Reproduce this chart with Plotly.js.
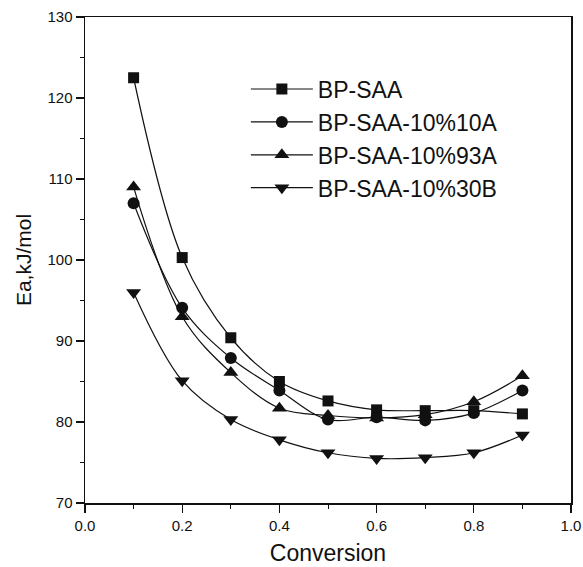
<!DOCTYPE html>
<html>
<head>
<meta charset="utf-8">
<script src="https://cdn.plot.ly/plotly-3.0.1.min.js"></script>
<style>html,body{margin:0;padding:0;background:#fff;}#chart{width:583px;height:567px;}</style>
</head>
<body>
<div id="chart"></div>
<script>
var conversion = [0.1, 0.2, 0.3, 0.4, 0.5, 0.6, 0.7, 0.8, 0.9];
var seriesNames = ["BP-SAA", "BP-SAA-10%10A", "BP-SAA-10%93A", "BP-SAA-10%30B"];
var bpSAA      = [122.5, 100.3, 90.4, 85.0, 82.6, 81.5, 81.4, 81.4, 81.0];
var bpSAA10A   = [107.0, 94.1, 87.9, 83.9, 80.3, 80.6, 80.2, 81.1, 83.9];
var bpSAA93A   = [109.0, 93.0, 86.1, 81.7, 80.8, 80.5, 80.9, 82.5, 85.7];
var bpSAA30B   = [96.0, 85.1, 80.3, 77.8, 76.2, 75.5, 75.6, 76.2, 78.4];
var seriesValues = [bpSAA, bpSAA10A, bpSAA93A, bpSAA30B];
var symbols = ["square", "circle", "triangle-up", "triangle-down"];
var sizes = [11, 12, 13, 13];

var traces = seriesValues.map(function (vals, i) {
  return {
    x: conversion,
    y: vals,
    name: seriesNames[i],
    type: "scatter",
    mode: "lines+markers",
    line: {color: "#111", width: 1.2, shape: "spline", smoothing: 1.0},
    marker: {symbol: symbols[i], size: sizes[i], color: "#111"}
  };
});

var font = "Liberation Sans, Arial, sans-serif";
var layout = {
  width: 583, height: 567,
  margin: {l: 85, r: 12, t: 17, b: 64},
  paper_bgcolor: "#fff", plot_bgcolor: "#fff",
  font: {family: font, color: "#111"},
  showlegend: true,
  legend: {
    x: 0.331, y: 0.896, xanchor: "left", yanchor: "top",
    bgcolor: "rgba(0,0,0,0)", borderwidth: 0,
    font: {size: 23, family: font, color: "#111"},
    itemwidth: 62, tracegroupgap: 0
  },
  xaxis: {
    range: [0, 1], dtick: 0.2, tick0: 0, tickformat: ".1f",
    showgrid: false, zeroline: false,
    showline: true, linecolor: "#111", linewidth: 1.5, mirror: true,
    ticks: "outside", ticklen: 8, tickwidth: 1.2, tickcolor: "#111",
    minor: {dtick: 0.1, ticks: "outside", ticklen: 4, tickwidth: 1, tickcolor: "#111", showgrid: false},
    tickfont: {size: 15, family: font, color: "#111"},
    title: {text: "Conversion", font: {size: 23, family: font, color: "#111"}, standoff: 12}
  },
  yaxis: {
    range: [70, 130], dtick: 10, tick0: 70,
    showgrid: false, zeroline: false,
    showline: true, linecolor: "#111", linewidth: 1.5, mirror: true,
    ticks: "outside", ticklen: 8, tickwidth: 1.2, tickcolor: "#111",
    minor: {dtick: 5, ticks: "outside", ticklen: 4, tickwidth: 1, tickcolor: "#111", showgrid: false},
    tickfont: {size: 15, family: font, color: "#111"},
    title: {text: "Ea,kJ/mol", font: {size: 21, family: font, color: "#111"}, standoff: 10}
  }
};

Plotly.newPlot("chart", traces, layout, {staticPlot: true, displayModeBar: false});
</script>
</body>
</html>
